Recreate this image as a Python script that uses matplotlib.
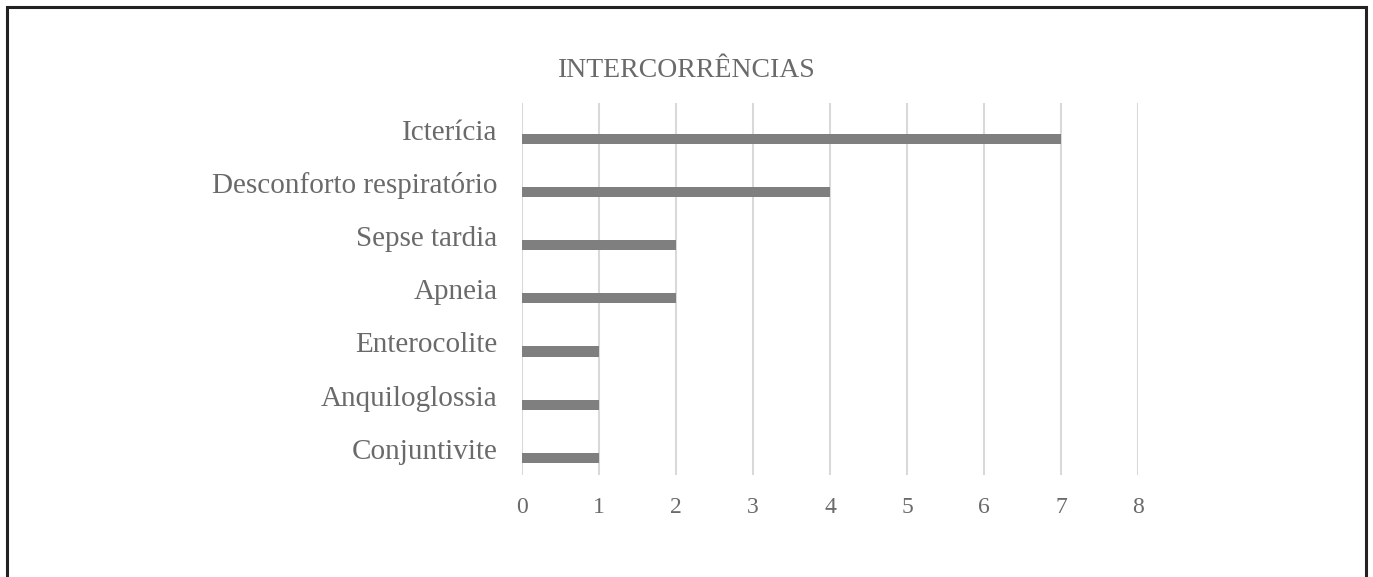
import matplotlib.pyplot as plt
from matplotlib.patches import Rectangle

# categories (top to bottom) and counts
categories = ['Icterícia', 'Desconforto respiratório', 'Sepse tardia', 'Apneia',
              'Enterocolite', 'Anquiloglossia', 'Conjuntivite']
counts = [7, 4, 2, 2, 1, 1, 1]
x_ticks = [0, 1, 2, 3, 4, 5, 6, 7, 8]

plt.rcParams['font.family'] = ['Liberation Serif', 'DejaVu Serif']
text_color = '#6a6a6a'

fig = plt.figure(figsize=(13.73, 5.77), dpi=100)
ax = fig.add_axes([0.380, 0.176, 0.449, 0.6455])

ypos = list(range(len(categories)))[::-1]
# bars sit a little below the category label (Excel style offset)
bar_y = [y - 0.17 for y in ypos]
ax.barh(bar_y, counts, height=0.19, color='#7f7f7f', zorder=3)

ax.set_xlim(0, 8)
ax.set_ylim(-0.5, len(categories) - 0.5)
ax.set_xticks(x_ticks)
ax.set_yticks(ypos)
ax.set_yticklabels(categories)
ax.tick_params(axis='y', length=0, pad=17.5, labelsize=21, labelcolor=text_color)
ax.tick_params(axis='x', length=0, pad=15.5, labelsize=17, labelcolor=text_color)
ax.grid(axis='x', color='#d9d9d9', linewidth=1.5, zorder=0)
for s in ax.spines.values():
    s.set_visible(False)

fig.text(0.5, 0.8666, 'INTERCORRÊNCIAS', ha='center', va='baseline',
         fontsize=20, color=text_color)

# frame around the figure
fig.patches.append(Rectangle((0.0052, -0.05), 0.9898, 1.038, transform=fig.transFigure,
                             fill=False, edgecolor='#222222', linewidth=2.2))

fig.savefig('out.png', dpi=100)
